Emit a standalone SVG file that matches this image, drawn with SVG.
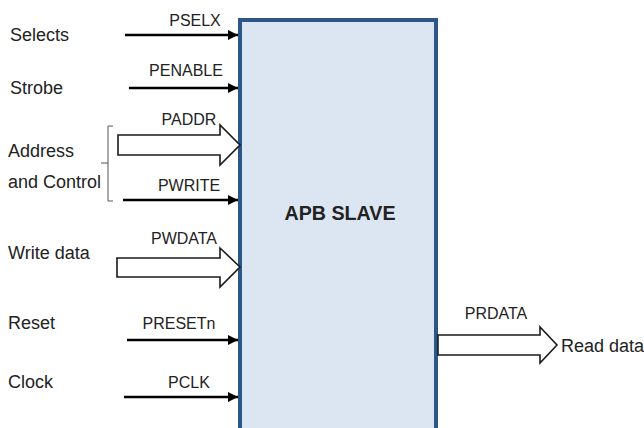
<svg xmlns="http://www.w3.org/2000/svg" width="644" height="428" viewBox="0 0 644 428">
  <style>
    text { font-family: "Liberation Sans", Arial, sans-serif; font-size: 18px; fill: #222; }
    .sig { text-anchor: middle; font-size: 16px; }
    .title { font-weight: bold; font-size: 21px; text-anchor: middle; }
    .wire { stroke: #000; stroke-width: 2.5; fill: none; }
    .bus { stroke: #1a1a1a; stroke-width: 1.6; fill: #fff; stroke-linejoin: miter; }
    .brace { stroke: #555; stroke-width: 1; fill: none; }
  </style>
  <defs>
    <marker id="head" viewBox="0 0 10 10" refX="10" refY="5" markerWidth="4" markerHeight="4" orient="auto" markerUnits="strokeWidth">
      <path d="M0,0 L10,5 L0,10 z" fill="#000"/>
    </marker>
  </defs>
  <rect width="644" height="428" fill="#fff"/>

  <g id="apb-slave">
    <rect x="240" y="20" width="196" height="420" fill="#dce6f2" stroke="#2b5687" stroke-width="4"/>
    <text class="title" x="340" y="220" textLength="111" lengthAdjust="spacingAndGlyphs">APB SLAVE</text>
  </g>

  <g id="labels">
    <text x="10" y="41">Selects</text>
    <text x="10" y="94">Strobe</text>
    <text x="8" y="157">Address</text>
    <text x="8" y="188">and Control</text>
    <text x="8" y="259">Write data</text>
    <text x="8" y="329">Reset</text>
    <text x="8" y="388">Clock</text>
    <text x="561" y="352">Read data</text>
  </g>

  <g id="connectors">
    <line class="wire" x1="125" y1="35" x2="238" y2="35" marker-end="url(#head)"/>
    <text class="sig" x="195" y="26">PSELX</text>
    <line class="wire" x1="129" y1="88" x2="238" y2="88" marker-end="url(#head)"/>
    <text class="sig" x="186" y="76">PENABLE</text>
    <path class="bus" d="M118,135 H220 V125 L240,145 L220,165 V155 H118 Z"/>
    <text class="sig" x="189" y="125">PADDR</text>
    <line class="wire" x1="123" y1="200" x2="238" y2="200" marker-end="url(#head)"/>
    <text class="sig" x="189" y="191">PWRITE</text>
    <path class="brace" d="M113,126 H108 V163 H101 M108,163 V201 H113"/>
    <path class="bus" d="M117,258 H220 V248 L240,267 L220,287 V277 H117 Z"/>
    <text class="sig" x="184" y="244">PWDATA</text>
    <line class="wire" x1="127" y1="340" x2="238" y2="340" marker-end="url(#head)"/>
    <text class="sig" x="179" y="329">PRESETn</text>
    <line class="wire" x1="124" y1="397" x2="238" y2="397" marker-end="url(#head)"/>
    <text class="sig" x="189" y="388">PCLK</text>
    <path class="bus" d="M438,335 H540 V327 L557,345 L540,363 V355 H438 Z"/>
    <text class="sig" x="496" y="319">PRDATA</text>
  </g>
</svg>
